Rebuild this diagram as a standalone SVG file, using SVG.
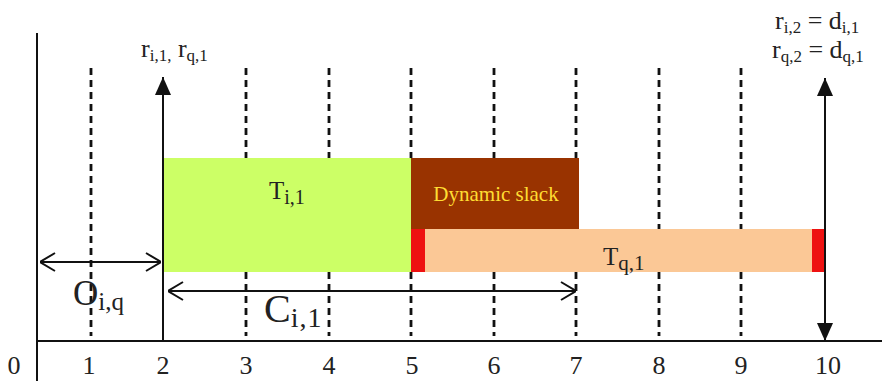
<svg xmlns="http://www.w3.org/2000/svg" width="882" height="381" viewBox="0 0 882 381" font-family="'Liberation Serif', 'Times New Roman', serif">
<style>
text, tspan { font-family: 'Liberation Serif', 'Times New Roman', serif; fill: #222; }
.grid { stroke: #111; stroke-width: 2.8; stroke-dasharray: 7,5; fill: none; }
.axis { stroke: #111; stroke-width: 2; fill: none; }
.ln { stroke: #111; stroke-width: 2; fill: none; }
.num { font-size: 26px; text-anchor: middle; }
.sub { font-size: 17px; }
</style>
<defs>
<marker id="fill" viewBox="0 0 18 16" refX="18" refY="8" markerWidth="18" markerHeight="16" markerUnits="userSpaceOnUse" orient="auto-start-reverse">
<path d="M0,0 L18,8 L0,16 z" fill="#111"/>
</marker>
<marker id="open" viewBox="0 0 16 20" refX="16" refY="10" markerWidth="16" markerHeight="20" markerUnits="userSpaceOnUse" orient="auto-start-reverse">
<path d="M1,1 L16,10 L1,19" fill="none" stroke="#111" stroke-width="2"/>
</marker>
</defs>
<rect width="882" height="381" fill="#fff"/>
<g id="gridlines">
<line class="grid" x1="91" y1="68" x2="91" y2="336"/>
<line class="grid" x1="246" y1="68" x2="246" y2="336"/>
<line class="grid" x1="329" y1="68" x2="329" y2="336"/>
<line class="grid" x1="411" y1="68" x2="411" y2="336"/>
<line class="grid" x1="494" y1="68" x2="494" y2="336"/>
<line class="grid" x1="576" y1="68" x2="576" y2="336"/>
<line class="grid" x1="659" y1="68" x2="659" y2="336"/>
<line class="grid" x1="741" y1="68" x2="741" y2="336"/>
</g>
<g id="task-i1">
<rect x="163" y="158" width="248" height="114" fill="#ccff66"/>
<text x="269" y="199" font-size="25">T<tspan font-size="20" dy="5">i,1</tspan></text>
</g>
<g id="dynamic-slack">
<rect x="411" y="158" width="168" height="71" fill="#993300"/>
<text x="496" y="201" font-size="21" text-anchor="middle" style="fill:#ffdd33">Dynamic slack</text>
</g>
<g id="task-q1">
<rect x="411" y="229" width="414" height="43" fill="#fbc896"/>
<rect x="411" y="229" width="14" height="43" fill="#ee1111"/>
<rect x="812" y="229" width="13" height="43" fill="#ee1111"/>
<text x="603" y="265" font-size="25">T<tspan font-size="21" dy="5">q,1</tspan></text>
</g>
<g id="axes">
<line class="axis" x1="37" y1="33" x2="37" y2="381"/>
<line class="axis" x1="37" y1="341" x2="882" y2="341"/>
<text class="num" x="14" y="374">0</text>
<text class="num" x="89" y="374">1</text>
<text class="num" x="163" y="374">2</text>
<text class="num" x="246" y="374">3</text>
<text class="num" x="329" y="374">4</text>
<text class="num" x="412" y="374">5</text>
<text class="num" x="494" y="374">6</text>
<text class="num" x="576" y="374">7</text>
<text class="num" x="659" y="374">8</text>
<text class="num" x="741" y="374">9</text>
<text class="num" x="828" y="374">10</text>
</g>
<g id="connectors">
<line class="ln" x1="163" y1="341" x2="163" y2="77" marker-end="url(#fill)"/>
<line class="ln" x1="825" y1="341" x2="825" y2="78" marker-start="url(#fill)" marker-end="url(#fill)"/>
<line class="ln" x1="40" y1="262" x2="161" y2="262" marker-start="url(#open)" marker-end="url(#open)"/>
<line class="ln" x1="168" y1="291" x2="576" y2="291" marker-start="url(#open)" marker-end="url(#open)"/>
</g>
<g id="labels">
<text x="141" y="57" font-size="26">r<tspan class="sub" dy="4">i,1,</tspan><tspan dy="-4"> r</tspan><tspan class="sub" dy="4">q,1</tspan></text>
<text x="775" y="29" font-size="26">r<tspan class="sub" dy="4">i,2</tspan><tspan dy="-4"> = d</tspan><tspan class="sub" dy="4">i,1</tspan></text>
<text x="772" y="58" font-size="26">r<tspan class="sub" dy="4">q,2</tspan><tspan dy="-4"> = d</tspan><tspan class="sub" dy="4">q,1</tspan></text>
<text x="73" y="305" font-size="35">O<tspan font-size="25" dy="5">i,q</tspan></text>
<text x="264" y="322" font-size="40">C<tspan font-size="28" dy="5" letter-spacing="1">i,1</tspan></text>
</g>
</svg>
